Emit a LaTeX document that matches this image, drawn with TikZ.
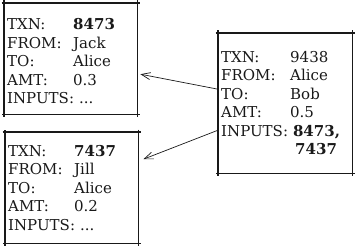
\documentclass[tikz,border=0pt]{standalone}
\usepackage{fontspec}
\setmainfont{DejaVu Serif}
\usetikzlibrary{arrows.meta,calc}
\definecolor{ink}{RGB}{25,25,25}
\newlength{\lblwd}
\setlength{\lblwd}{66pt}
\newcommand{\lbl}[1]{\makebox[\lblwd][l]{#1}}

\begin{document}
\begin{tikzpicture}[x=1pt, y=-1pt,
    txn/.style={anchor=north west, inner xsep=3pt, inner ysep=0pt, text width=#1, align=left,
        font=\fontsize{15}{18.5}\selectfont, text=ink},
    edge/.style={line width=1.3pt, draw=ink, shorten <=-2.5pt, shorten >=-2.5pt},
    link/.style={-{Straight Barb[length=9pt,width=7pt]}, line width=0.7pt, draw=ink}]
    \useasboundingbox (0,0) rectangle (356,246);

    % three transactions
    \node[txn=127pt, minimum height=111pt] (tx1) at (4,3)
        {\rule{0pt}{16.5pt}\lbl{TXN:}\textbf{8473}\\ \lbl{FROM:}Jack\\ \lbl{TO:}Alice\\ \lbl{AMT:}0.3\\ INPUTS: ...};
    \node[txn=128pt, minimum height=140pt] (tx2) at (218,33)
        {\setlength{\lblwd}{69pt}%
         \lbl{TXN:}9438\\ \lbl{FROM:}Alice\\ \lbl{TO:}Bob\\ \lbl{AMT:}0.5\\ INPUTS: \textbf{8473,}\\ \lbl{}\hspace{5pt}\textbf{7437}};
    \node[txn=127pt, minimum height=111pt] (tx3) at (5,132)
        {\lbl{TXN:}\textbf{7437}\\ \lbl{FROM:}Jill\\ \lbl{TO:}Alice\\ \lbl{AMT:}0.2\\ INPUTS: ...};

    % hand-drawn frames, sides run past the corners
    \foreach \b in {tx1,tx2,tx3} {
        \draw[edge] (\b.north west) -- (\b.north east);
        \draw[edge] (\b.north east) -- (\b.south east);
        \draw[edge] (\b.south east) -- (\b.south west);
        \draw[edge] (\b.south west) -- (\b.north west);
    }

    % inputs point back to earlier transactions
    \draw[link] ([yshift=14pt]tx2.west) -- ([xshift=3pt, yshift=-15.5pt]tx1.east);
    \draw[link] ([yshift=-27pt]tx2.west) -- ([xshift=5pt, yshift=28.5pt]tx3.east);
\end{tikzpicture}
\end{document}
